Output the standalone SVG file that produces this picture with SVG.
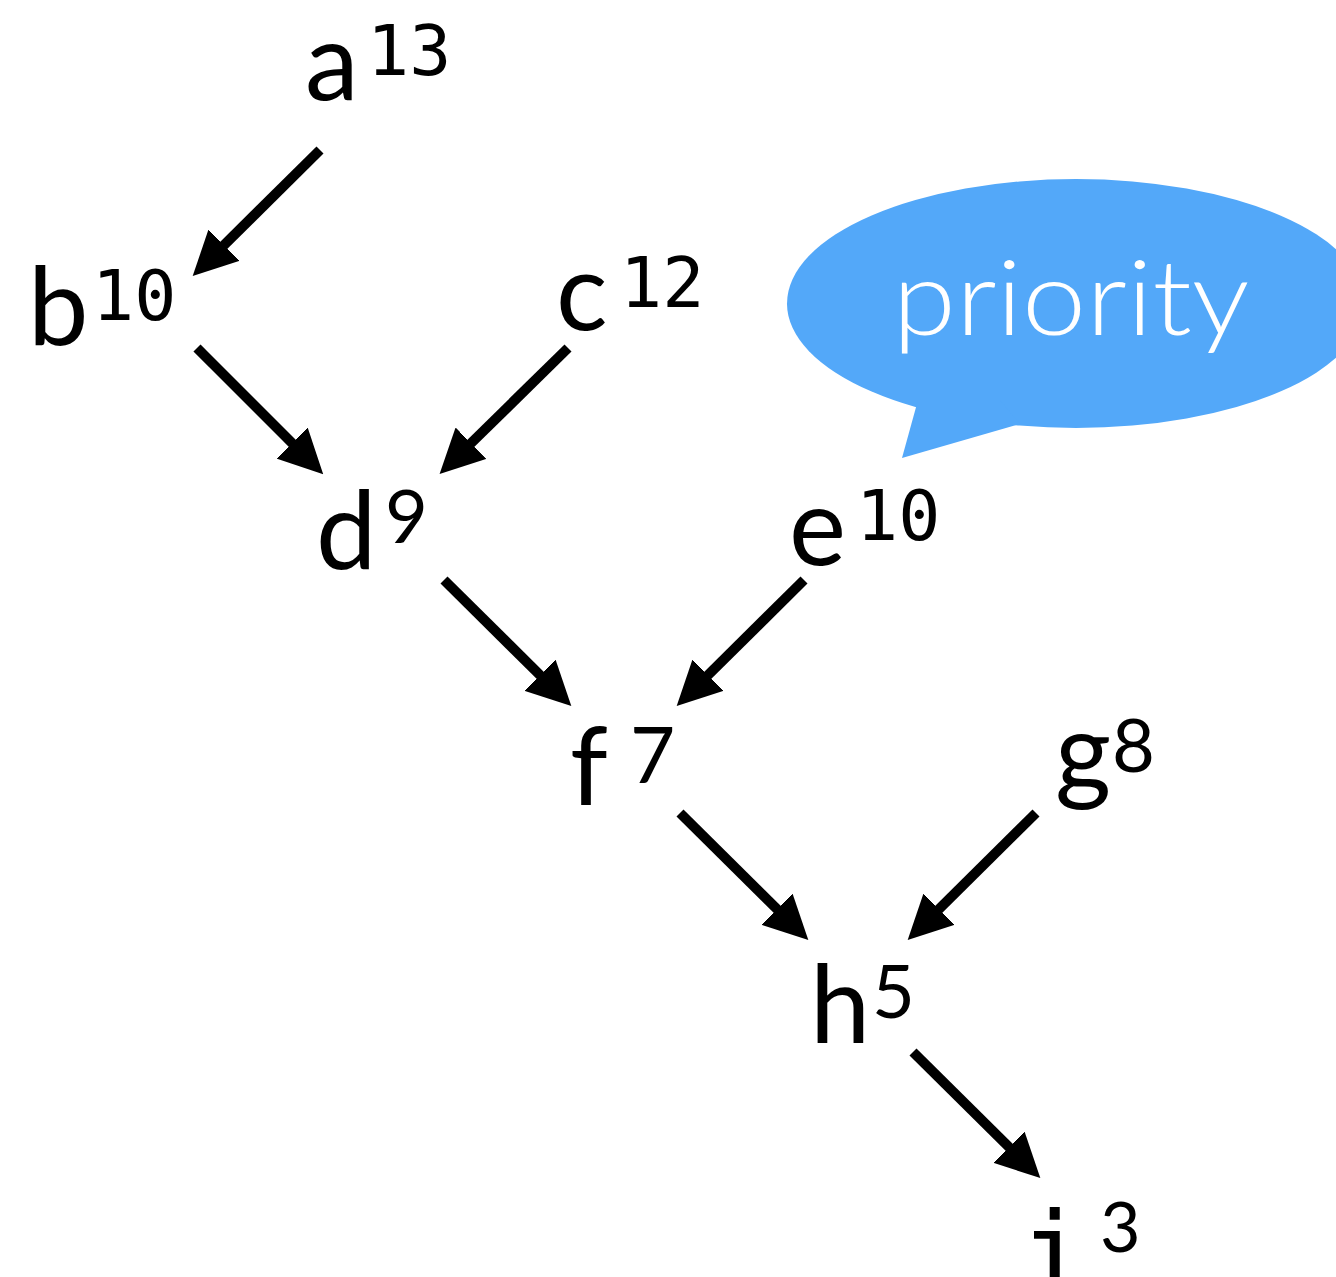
<svg xmlns="http://www.w3.org/2000/svg" width="1336" height="1277" viewBox="0 0 1336 1277">
<style>
.lt{font-family:Lato,"Open Sans","Liberation Sans",sans-serif;font-size:108px;fill:#000}
.mono{font-family:"DejaVu Sans Mono","Liberation Mono",monospace;font-size:70px;fill:#000}
.sd{font-family:Lato,"Open Sans","Liberation Sans",sans-serif;font-size:74px;fill:#000}
.edge{stroke:#000;stroke-width:10;fill:none;marker-end:url(#ah)}
</style>
<defs>
<marker id="ah" viewBox="0 0 44 44" markerWidth="44" markerHeight="44" markerUnits="userSpaceOnUse" refX="14" refY="22" orient="auto">
<path d="M0,0 L44,22 L0,44 z" fill="#000"/>
</marker>
</defs>
<rect width="1336" height="1277" fill="#fff"/>
<g id="bubble">
<ellipse cx="1076" cy="303.5" rx="289" ry="124.5" fill="#53a8f9"/>
<polygon points="918,400 902,458 1020,424 1000,400" fill="#53a8f9"/>
<text x="1071" y="335" text-anchor="middle" font-family="Lato,'Open Sans','Liberation Sans',sans-serif" font-weight="300" font-size="104" fill="#fff" textLength="357" lengthAdjust="spacingAndGlyphs">priority</text>
</g>
<g id="connectors">
<line class="edge" x1="320" y1="150" x2="214" y2="255"/>
<line class="edge" x1="197" y1="348" x2="302" y2="453"/>
<line class="edge" x1="568" y1="348" x2="461" y2="453"/>
<line class="edge" x1="444" y1="580" x2="550" y2="685"/>
<line class="edge" x1="804" y1="580" x2="698" y2="685"/>
<line class="edge" x1="680" y1="813" x2="787" y2="919"/>
<line class="edge" x1="1036" y1="813" x2="929" y2="919"/>
<line class="edge" x1="913" y1="1052" x2="1019" y2="1157"/>
</g>
<g id="node-a"><text class="lt" x="305" y="100">a</text><text class="mono" x="367" y="75">13</text></g>
<g id="node-b"><text class="lt" x="28" y="345">b</text><text class="mono" x="92" y="320">10</text></g>
<g id="node-c"><text class="lt" x="556" y="330">c</text><text class="mono" x="620" y="307">12</text></g>
<g id="node-d"><text class="lt" x="316" y="569">d</text><text class="sd" x="385" y="543">9</text></g>
<g id="node-e"><text class="lt" x="789" y="565">e</text><text class="mono" x="856" y="540">10</text></g>
<g id="node-f"><text class="lt" x="570" y="805">f</text><text class="sd" style="font-size:78px" x="630" y="783">7</text></g>
<g id="node-g"><text class="lt" x="1055" y="790">g</text><text class="sd" x="1112" y="772">8</text></g>
<g id="node-h"><text class="lt" x="810" y="1043">h</text><text class="sd" x="872" y="1018">5</text></g>
<g id="node-i"><text class="mono" style="font-size:112px" x="1020" y="1292">i</text><text class="sd" style="font-size:70px" x="1100" y="1252">3</text></g>
</svg>
